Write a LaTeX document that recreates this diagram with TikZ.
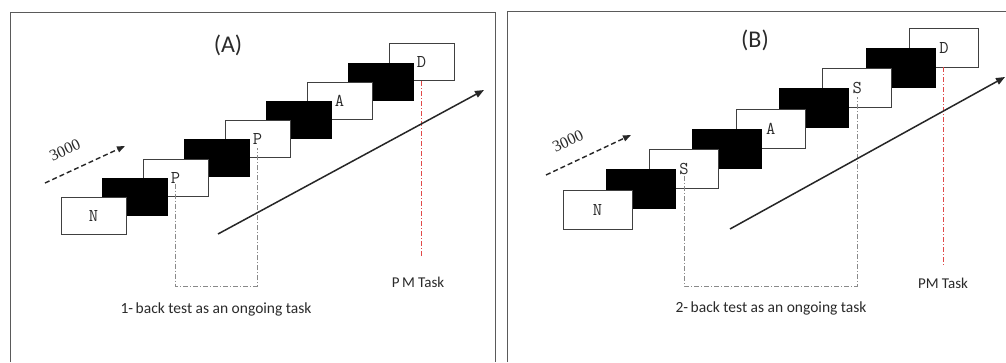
\documentclass[tikz,border=0pt]{standalone}
\usepackage{fontspec}
\setmainfont{Carlito}
\newfontfamily\serf{Liberation Serif}
\usetikzlibrary{arrows.meta}
\definecolor{framegray}{HTML}{5A5A5A}
\definecolor{ddgray}{HTML}{8A8A8A}
\definecolor{ddred}{HTML}{E04848}
\definecolor{txt}{HTML}{2A2A2A}
\begin{document}
\begin{tikzpicture}[x=1pt,y=-1pt,
  boxbase/.style={rectangle,inner sep=0pt,line width=0.9pt,text=txt,font=\ttfamily\fontsize{18}{18}\selectfont},
  wA/.style={boxbase,draw=black!75,fill=white,minimum width=65pt,minimum height=37pt},
  kA/.style={boxbase,draw=black,fill=black,minimum width=65pt,minimum height=37pt},
  wB/.style={boxbase,draw=black!75,fill=white,minimum width=69pt,minimum height=39pt},
  kB/.style={boxbase,draw=black,fill=black,minimum width=69pt,minimum height=39pt},
  frameline/.style={draw=framegray,line width=1pt},
  graydd/.style={draw=ddgray,line width=1pt,dash pattern=on 5pt off 2pt on 1pt off 2pt},
  reddd/.style={draw=ddred,line width=1.1pt,dash pattern=on 5pt off 2pt on 1pt off 2pt},
  mainarrow/.style={draw=black!85,line width=1.5pt,-{Triangle[length=9pt,width=7pt]}},
  dasharrow/.style={draw=black!85,line width=1.4pt,dash pattern=on 5pt off 3pt,-{Triangle[length=8pt,width=6pt]}},
  numlabel/.style={font=\serf\fontsize{16}{16}\selectfont,text=txt,rotate=25,inner sep=0pt},
  title/.style={font=\fontsize{24}{24}\selectfont,text=txt},
  caption/.style={font=\fontsize{15.5}{15.5}\selectfont,text=txt},
  pmlabel/.style={font=\fontsize{15}{15}\selectfont,text=txt},
]
\useasboundingbox (0,0) rectangle (1006,362);
\fill[white] (0,0) rectangle (1006,362);

% ---------- frames ----------
\draw[frameline] (10,362) -- (10,12) -- (495,12) -- (495,362);
\draw[frameline] (507,362) -- (507,11) -- (1006,11);

% ---------- Panel A ----------
\node[wA] (a8) at (421.5,62.4) {D};
\node[kA] (a7) at (380.5,81.6) {};
\node[wA] (a6) at (339.5,100.8) {A};
\node[kA] (a5) at (298.5,120) {};
\node[wA] (a4) at (257.5,139.2) {P};
\node[kA] (a3) at (216.5,158.4) {};
\node[wA] (a2) at (175.5,177.6) {P};
\node[kA] (a1) at (134.5,196.8) {};
\node[wA] (a0) at (93.5,216) {N};

\coordinate (baseA) at (0,286);
\coordinate (redA) at (0,258);
\draw[graydd] ([yshift=-6pt]a2.center) -- (a2.center |- baseA) -| ([yshift=-9pt]a4.center);
\draw[reddd] (a8.south) -- (a8.center |- redA);

\coordinate (mA0) at (218,234);
\coordinate (mA1) at (484,90);
\draw[mainarrow] (mA0) -- (mA1);
\coordinate (dA0) at (45,183);
\coordinate (dA1) at (125,146);
\draw[dasharrow] (dA0) -- (dA1);
\node[numlabel] (nA) at (65,150) {3000};

\node[title] (tA) at (228,45) {(A)};
\node[caption] (cA) at (216,309) {1-\,back test as an ongoing task};
\node[pmlabel] (pA) at (418,282) {P\,M Task};

% ---------- Panel B ----------
\node[wB] (b8) at (943.9,47.5) {D};
\node[kB] (b7) at (900.6,67.75) {};
\node[wB] (b6) at (857.3,88) {S};
\node[kB] (b5) at (814,108.25) {};
\node[wB] (b4) at (770.7,128.5) {A};
\node[kB] (b3) at (727.4,148.75) {};
\node[wB] (b2) at (684.1,169) {S};
\node[kB] (b1) at (640.8,189.25) {};
\node[wB] (b0) at (597.5,209.5) {N};

\coordinate (baseB) at (0,286);
\coordinate (redB) at (0,265);
\draw[graydd] ([yshift=-7pt]b2.center) -- (b2.center |- baseB) -| ([yshift=-9pt]b6.center);
\draw[reddd] (b8.south) -- (b8.center |- redB);

\coordinate (mB0) at (730,229);
\coordinate (mB1) at (1005,77);
\draw[mainarrow] (mB0) -- (mB1);
\coordinate (dB0) at (546,175);
\coordinate (dB1) at (631,135);
\draw[dasharrow] (dB0) -- (dB1);
\node[numlabel] (nB) at (568,141) {3000};

\node[title] (tB) at (755,40) {(B)};
\node[caption] (cB) at (771,308) {2-\,back test as an ongoing task};
\node[pmlabel] (pB) at (943,283) {PM Task};
\end{tikzpicture}
\end{document}
